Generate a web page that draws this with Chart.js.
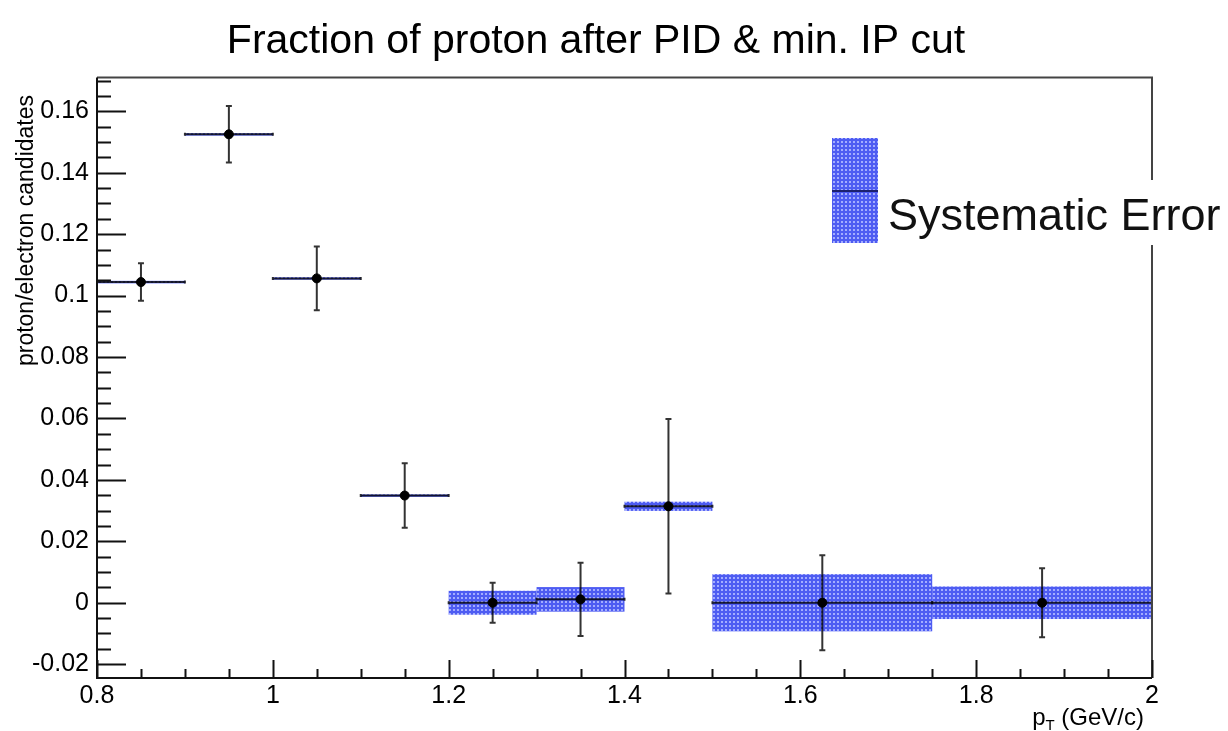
<!DOCTYPE html>
<html>
<head>
<meta charset="utf-8">
<script src="https://cdn.jsdelivr.net/npm/chart.js@4.4.1/dist/chart.umd.min.js"></script>
<style>
    html, body { margin: 0; padding: 0; background: #fff; }
    .chart_wrap { width: 1228px; height: 731px; }
</style>
</head>
<body>
<div class="chart_wrap"><canvas id="fraction_chart" width="1228" height="731"></canvas></div>
<script>
// bins in pT (GeV/c)
const binLow = [0.8, 0.9, 1.0, 1.1, 1.2, 1.3, 1.4, 1.5, 1.75];
const binHigh = [0.9, 1.0, 1.1, 1.2, 1.3, 1.4, 1.5, 1.75, 2.0];
const binCenter = [0.85, 0.95, 1.05, 1.15, 1.25, 1.35, 1.45, 1.625, 1.875];

// proton / electron candidates
const fraction = [0.1044, 0.1525, 0.1056, 0.0349, 0, 0.0011, 0.0314, 0, 0];
const statErr = [0.0061, 0.0092, 0.0104, 0.0105, 0.0065, 0.0119, 0.0284, 0.0155, 0.0112];
const sysErr = [0.0004, 0.0004, 0.0004, 0.0004, 0.0039, 0.0040, 0.0015, 0.0093, 0.0053];

const xTicks = [0.8, 1, 1.2, 1.4, 1.6, 1.8, 2];
const yTicks = [-0.02, 0, 0.02, 0.04, 0.06, 0.08, 0.1, 0.12, 0.14, 0.16];

const FONT = "'Liberation Sans', Helvetica, Arial, sans-serif";
const AXIS_COLOR = '#111';
const FRAME_COLOR = '#444';
const BAR_COLOR = '#333';
const BOX_BASE = '#4e5cf2';
const BOX_DOT = '#a4adff';

class FractionPage {
    constructor() {
        this.init();
    }

    init() {
        this.canvas = document.getElementById('fraction_chart');
        this.hatch = this.makeHatch();
        this.initChart();
    }

    makeHatch() {
        const c = document.createElement('canvas');
        c.width = 4;
        c.height = 4;
        const p = c.getContext('2d');
        p.fillStyle = BOX_BASE;
        p.fillRect(0, 0, 4, 4);
        p.fillStyle = BOX_DOT;
        p.fillRect(1, 1, 2, 2);
        return this.canvas.getContext('2d').createPattern(c, 'repeat');
    }

    // error boxes + error bars, drawn under the markers
    errorPlugin() {
        const page = this;
        return {
            id: 'errors',
            beforeDatasetsDraw(chart) {
                const {ctx, scales: {x, y}} = chart;
                ctx.save();
                ctx.fillStyle = page.hatch;
                for (let i = 0; i < fraction.length; i++) {
                    const x0 = x.getPixelForValue(binLow[i]);
                    const x1 = x.getPixelForValue(binHigh[i]);
                    const y0 = y.getPixelForValue(fraction[i] + sysErr[i]);
                    const y1 = y.getPixelForValue(fraction[i] - sysErr[i]);
                    ctx.fillRect(x0, y0, x1 - x0, Math.max(y1 - y0, 2.5));
                }

                ctx.globalCompositeOperation = 'multiply';
                ctx.strokeStyle = BAR_COLOR;
                ctx.lineWidth = 2;
                for (let i = 0; i < fraction.length; i++) {
                    const xc = x.getPixelForValue(binCenter[i]);
                    const x0 = x.getPixelForValue(binLow[i]);
                    const x1 = x.getPixelForValue(binHigh[i]);
                    const yc = y.getPixelForValue(fraction[i]);
                    const yt = y.getPixelForValue(fraction[i] + statErr[i]);
                    const yb = y.getPixelForValue(fraction[i] - statErr[i]);
                    ctx.beginPath();
                    ctx.moveTo(x0, yc); ctx.lineTo(x1, yc);
                    ctx.moveTo(x0, yc - 1.5); ctx.lineTo(x0, yc + 1.5);
                    ctx.moveTo(x1, yc - 1.5); ctx.lineTo(x1, yc + 1.5);
                    ctx.moveTo(xc, yt); ctx.lineTo(xc, yb);
                    ctx.moveTo(xc - 3, yt); ctx.lineTo(xc + 3, yt);
                    ctx.moveTo(xc - 3, yb); ctx.lineTo(xc + 3, yb);
                    ctx.stroke();
                }
                ctx.restore();
            }
        };
    }

    // ROOT style frame, inward ticks, titles and the legend
    framePlugin() {
        const page = this;
        return {
            id: 'frame',
            afterDraw(chart) {
                const {ctx, chartArea: area, scales: {x, y}} = chart;
                ctx.save();

                // top / right frame
                ctx.strokeStyle = FRAME_COLOR;
                ctx.lineWidth = 2;
                ctx.beginPath();
                ctx.moveTo(area.left, area.top);
                ctx.lineTo(area.right, area.top);
                ctx.lineTo(area.right, area.bottom);
                ctx.stroke();

                // left / bottom axes
                ctx.strokeStyle = AXIS_COLOR;
                ctx.beginPath();
                ctx.moveTo(area.left, area.top);
                ctx.lineTo(area.left, area.bottom);
                ctx.lineTo(area.right, area.bottom);
                ctx.stroke();

                // y ticks, major every 0.02, minor every 0.005
                ctx.lineWidth = 2;
                ctx.beginPath();
                for (let k = -4; k <= 34; k++) {
                    const v = k * 0.005;
                    if (v < y.min || v > y.max) continue;
                    const py = Math.round(y.getPixelForValue(v)) + 0.5;
                    const len = k % 4 === 0 ? 29 : 14;
                    ctx.moveTo(area.left, py);
                    ctx.lineTo(area.left + len, py);
                }
                // x ticks, major every 0.2, minor every 0.05
                for (let k = 16; k <= 40; k++) {
                    const v = k * 0.05;
                    const px = Math.round(x.getPixelForValue(v)) + 0.5;
                    const len = k % 4 === 0 ? 18 : 9;
                    ctx.moveTo(px, area.bottom);
                    ctx.lineTo(px, area.bottom - len);
                }
                ctx.stroke();

                // titles
                ctx.fillStyle = '#000';
                ctx.font = `41px ${FONT}`;
                ctx.textAlign = 'center';
                ctx.textBaseline = 'alphabetic';
                ctx.fillText('Fraction of proton after PID & min. IP cut', 596, 53);

                ctx.save();
                ctx.translate(33, 95);
                ctx.rotate(-Math.PI / 2);
                ctx.font = `23px ${FONT}`;
                ctx.textAlign = 'right';
                ctx.fillText('proton/electron candidates', 0, 0);
                ctx.restore();

                // x title with subscript, right aligned
                ctx.textAlign = 'left';
                ctx.font = `24px ${FONT}`;
                const rest = ' (GeV/c)';
                const restW = ctx.measureText(rest).width;
                const pW = ctx.measureText('p').width;
                ctx.font = `15px ${FONT}`;
                const tW = ctx.measureText('T').width;
                let xs = 1144 - restW - tW - pW;
                ctx.font = `24px ${FONT}`;
                ctx.fillText('p', xs, 725);
                ctx.font = `15px ${FONT}`;
                ctx.fillText('T', xs + pW, 730);
                ctx.font = `24px ${FONT}`;
                ctx.fillText(rest, xs + pW + tW, 725);

                // legend
                ctx.fillStyle = '#fff';
                ctx.fillRect(884, 180, 344, 65);
                ctx.fillStyle = page.hatch;
                ctx.fillRect(832, 138, 46, 105);
                ctx.strokeStyle = '#1c2070';
                ctx.lineWidth = 2;
                ctx.beginPath();
                ctx.moveTo(832, 191);
                ctx.lineTo(878, 191);
                ctx.stroke();
                ctx.fillStyle = '#111';
                ctx.font = `45px ${FONT}`;
                ctx.fillText('Systematic Error', 888, 230);

                ctx.restore();
            }
        };
    }

    initChart() {
        const points = binCenter.map((v, i) => ({x: v, y: fraction[i]}));
        const tickFont = {family: FONT, size: 25};

        this.chart = new Chart(this.canvas, {
            type: 'scatter',
            data: {
                datasets: [{
                    data: points,
                    pointRadius: 4.5,
                    pointBackgroundColor: '#000',
                    pointBorderColor: '#000',
                    pointBorderWidth: 1,
                    showLine: false,
                }]
            },
            options: {
                responsive: false,
                animation: false,
                layout: {
                    padding: {top: 77.5, right: 76, bottom: 0, left: 0}
                },
                plugins: {
                    legend: {display: false},
                    tooltip: {enabled: false},
                    title: {display: false},
                },
                scales: {
                    x: {
                        type: 'linear',
                        min: 0.8,
                        max: 2,
                        grid: {display: false, drawTicks: false},
                        border: {display: false},
                        ticks: {
                            font: tickFont,
                            color: '#000',
                            padding: 3,
                            maxRotation: 0,
                            autoSkip: false,
                            callback: v => String(v),
                        },
                        afterBuildTicks: s => { s.ticks = xTicks.map(v => ({value: v})); },
                        afterFit: s => { s.height = 53; },
                    },
                    y: {
                        type: 'linear',
                        min: -0.0245,
                        max: 0.171,
                        grid: {display: false, drawTicks: false},
                        border: {display: false},
                        ticks: {
                            font: tickFont,
                            color: '#000',
                            padding: 8,
                            autoSkip: false,
                            callback: v => String(v),
                        },
                        afterBuildTicks: s => { s.ticks = yTicks.map(v => ({value: v})); },
                        afterFit: s => { s.width = 97; },
                    }
                }
            },
            plugins: [this.errorPlugin(), this.framePlugin()]
        });
    }
}

new FractionPage();
</script>
</body>
</html>
